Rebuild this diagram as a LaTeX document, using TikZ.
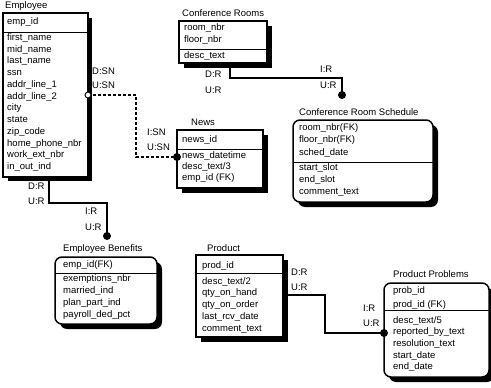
\documentclass[tikz,border=0pt]{standalone}
\usepackage{fontspec}
\setmainfont{Liberation Sans}
\begin{document}
\begin{tikzpicture}[x=1pt, y=-1pt,
  every node/.style={font=\fontsize{9.5}{11}\selectfont, inner sep=0pt, text height=7pt, text depth=2pt, anchor=west},
  box/.style={draw, line width=1.5pt, fill=white},
  shade/.style={fill=black},
  sepline/.style={line width=1pt},
  rel/.style={line width=1.3pt},
  wk/.style={rounded corners=7pt}]

\useasboundingbox (0,0) rectangle (491,388);

% Employee
\node (empT) at (5,6) {Employee};
\fill[shade] (8,18) rectangle (92,181);
\draw[box] (3,13) rectangle (88,177);
\draw[sepline] (3,32) -- (88,32);
\node (emp-k) at (7,22) {emp\_id};
\foreach \f [count=\i from 0] in {first\_name, mid\_name, last\_name, ssn, addr\_line\_1, addr\_line\_2, city, state, zip\_code, home\_phone\_nbr, work\_ext\_nbr, in\_out\_ind}
  \node (emp-\i) at (7, 38+11.73*\i) {\f};

% Conference Rooms
\node (crT) at (182,14) {Conference Rooms};
\fill[shade] (184,26) rectangle (272,68);
\draw[box] (179,21) rectangle (267,63);
\draw[sepline] (179,49) -- (267,49);
\node (cr-1) at (184,28) {room\_nbr};
\node (cr-2) at (184,40) {floor\_nbr};
\node (cr-3) at (184,56) {desc\_text};

% News
\node (newsT) at (191,123) {News};
\fill[shade] (182,135) rectangle (268,193);
\draw[box] (177,130) rectangle (263,188);
\draw[sepline] (177,149) -- (263,149);
\node (news-1) at (182,140) {news\_id};
\node (news-2) at (182,156) {news\_datetime};
\node (news-3) at (182,167) {desc\_text/3};
\node (news-4) at (182,178) {emp\_id (FK)};

% Conference Room Schedule
\node (crsT) at (299,113) {Conference Room Schedule};
\fill[shade, wk] (298,125) rectangle (438,207);
\draw[box, wk] (293,120) rectangle (433,202);
\draw[sepline] (293,162) -- (433,162);
\node (crs-1) at (299,128) {room\_nbr(FK)};
\node (crs-2) at (299,140) {floor\_nbr(FK)};
\node (crs-3) at (299,153) {sched\_date};
\node (crs-4) at (299,168) {start\_slot};
\node (crs-5) at (299,180) {end\_slot};
\node (crs-6) at (299,192) {comment\_text};

% Employee Benefits
\node (ebT) at (63,249) {Employee Benefits};
\fill[shade, wk] (60,262) rectangle (162,329);
\draw[box, wk] (55,257) rectangle (157,324);
\draw[sepline] (55,273) -- (157,273);
\node (eb-1) at (63,265) {emp\_id(FK)};
\node (eb-2) at (63,279) {exemptions\_nbr};
\node (eb-3) at (63,291) {married\_ind};
\node (eb-4) at (63,303) {plan\_part\_ind};
\node (eb-5) at (63,315) {payroll\_ded\_pct};

% Product
\node (prodT) at (207,249) {Product};
\fill[shade] (201,260) rectangle (288,342);
\draw[box] (196,255) rectangle (283,337);
\draw[sepline] (196,273) -- (283,273);
\node (prod-1) at (202,266) {prod\_id};
\node (prod-2) at (202,282) {desc\_text/2};
\node (prod-3) at (202,293) {qty\_on\_hand};
\node (prod-4) at (202,305) {qty\_on\_order};
\node (prod-5) at (202,317) {last\_rcv\_date};
\node (prod-6) at (202,329) {comment\_text};

% Product Problems
\node (ppT) at (393,275) {Product Problems};
\fill[shade, wk] (389,288) rectangle (494,382);
\draw[box, wk] (384,283) rectangle (489,377);
\draw[sepline] (384,310) -- (489,310);
\node (pp-1) at (393,291) {prob\_id};
\node (pp-2) at (393,305) {prod\_id (FK)};
\node (pp-3) at (393,321) {desc\_text/5};
\node (pp-4) at (393,332) {reported\_by\_text};
\node (pp-5) at (393,344) {resolution\_text};
\node (pp-6) at (393,356) {start\_date};
\node (pp-7) at (393,367) {end\_date};

% Beziehungen
\coordinate (empR) at (88,95);
\coordinate (newsL) at (177,157);
\coordinate (crB) at (230,63);
\coordinate (crsDot) at (342,95);
\coordinate (empB) at (49,177);
\coordinate (ebDot) at (107,236);
\coordinate (prodR) at (283,295);
\coordinate (ppL) at (384,333);

\draw[rel, dash pattern=on 3pt off 2pt] (empR) -- ++(48,0) |- (newsL);
\draw[rel] (crB) -- ++(0,15) -| (crsDot);
\draw[rel] (empB) -- ++(0,26) -| (ebDot);
\draw[rel] (prodR) -- ++(42,0) |- (ppL);

\draw[line width=1pt, fill=white] (empR) circle (3);
\fill (newsL) circle (4);
\fill (crsDot) circle (4);
\fill (ebDot) circle (4);
\fill (ppL) circle (4);

% Beschriftungen
\node (l1) at (92,72) {D:SN};
\node (l2) at (92,86) {U:SN};
\node (l3) at (147,133) {I:SN};
\node (l4) at (147,148) {U:SN};
\node (l5) at (205,75) {D:R};
\node (l6) at (205,91) {U:R};
\node (l7) at (320,70) {I:R};
\node (l8) at (320,86) {U:R};
\node (l9) at (28,187) {D:R};
\node (l10) at (28,202) {U:R};
\node (l11) at (85,212) {I:R};
\node (l12) at (85,228) {U:R};
\node (l13) at (291,273) {D:R};
\node (l14) at (291,288) {U:R};
\node (l15) at (363,309) {I:R};
\node (l16) at (363,324) {U:R};
\end{tikzpicture}
\end{document}
